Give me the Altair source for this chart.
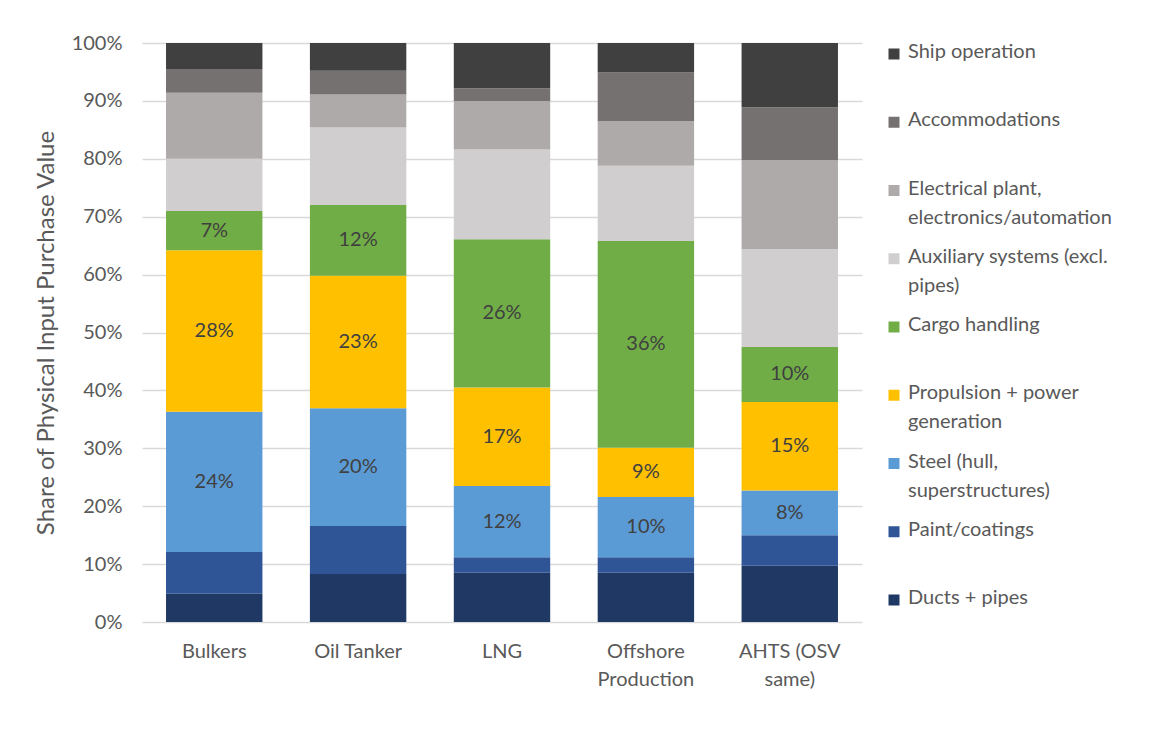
import altair as alt
import pandas as pd

# ---- data ----
ships = ["Bulkers", "Oil Tanker", "LNG", "Offshore Production", "AHTS (OSV same)"]
ship_axis_lines = [["Bulkers"], ["Oil Tanker"], ["LNG"], ["Offshore", "Production"], ["AHTS (OSV", "same)"]]

# components, bottom of stack first
components = [
    "Ducts + pipes",
    "Paint/coatings",
    "Steel (hull, superstructures)",
    "Propulsion + power generation",
    "Cargo handling",
    "Auxiliary systems (excl. pipes)",
    "Electrical plant, electronics/automation",
    "Accommodations",
    "Ship operation",
]
legend_text = [
    "Ducts + pipes",
    "Paint/coatings",
    "Steel (hull,\nsuperstructures)",
    "Propulsion + power\ngeneration",
    "Cargo handling",
    "Auxiliary systems (excl.\npipes)",
    "Electrical plant,\nelectronics/automation",
    "Accommodations",
    "Ship operation",
]
colors = ["#203864", "#2F5597", "#5B9BD5", "#FFC000", "#70AD47",
          "#D0CECE", "#AEAAAA", "#767171", "#404040"]

ducts = [4.9, 8.3, 8.5, 8.5, 9.7]
paint = [7.2, 8.3, 2.7, 2.7, 5.3]
steel = [24.2, 20.3, 12.3, 10.4, 7.7]
propulsion = [27.9, 22.9, 17.0, 8.5, 15.3]
cargo = [6.8, 12.2, 25.6, 35.7, 9.5]
auxiliary = [9.0, 13.4, 15.5, 13.0, 16.9]
electrical = [11.4, 5.7, 8.4, 7.7, 15.4]
accommodations = [4.1, 4.1, 2.2, 8.4, 9.1]
ship_operation = [4.5, 4.8, 7.8, 5.1, 11.1]

steel_labels = ["24%", "20%", "12%", "10%", "8%"]
propulsion_labels = ["28%", "23%", "17%", "9%", "15%"]
cargo_labels = ["7%", "12%", "26%", "36%", "10%"]

series = [ducts, paint, steel, propulsion, cargo, auxiliary, electrical,
          accommodations, ship_operation]
labels = [None, None, steel_labels, propulsion_labels, cargo_labels,
          None, None, None, None]

rows = []
for i, (comp, vals) in enumerate(zip(components, series)):
    for j, ship in enumerate(ships):
        lab = labels[i][j] if labels[i] is not None else ""
        rows.append({"ship": ship, "component": comp, "order": i,
                     "value": vals[j], "label": lab})
df = pd.DataFrame(rows)

leg_df = pd.DataFrame({"component": components, "text": legend_text})
legend_order = components[::-1]

FONT = "Lato"
GREY = "#595959"

# x label expression (multi-line)
parts = []
for name, lines in zip(ships, ship_axis_lines):
    if len(lines) > 1:
        arr = "[" + ",".join("'" + l + "'" for l in lines) + "]"
        parts.append(f"datum.value == '{name}' ? {arr} : ")
label_expr = "".join(parts) + "datum.label"

base = alt.Chart(df).transform_stack(
    stack="value", groupby=["ship"], sort=[alt.SortField("order", order="ascending")],
    as_=["y0", "y1"]
).transform_calculate(mid="(datum.y0 + datum.y1) / 2")

x_enc = alt.X("ship:N", sort=ships, title=None,
              scale=alt.Scale(paddingInner=0.33, paddingOuter=0.167),
              axis=alt.Axis(labelAngle=0, ticks=False, domain=False, labelExpr=label_expr,
                            labelFontSize=20, labelColor=GREY, labelFont=FONT,
                            labelPadding=19, labelLineHeight=28, labelBaseline="top"))

bars = base.mark_bar(stroke=None).encode(
    x=x_enc,
    y=alt.Y("y0:Q", scale=alt.Scale(domain=[0, 100], nice=False),
            title="Share of Physical Input Purchase Value",
            axis=alt.Axis(values=list(range(0, 101, 10)), labelExpr="datum.value + '%'",
                          ticks=False, domain=False, grid=True, gridColor="#D9D9D9",
                          gridWidth=1.3, labelFontSize=20, labelColor=GREY, labelFont=FONT,
                          labelPadding=20, titleFontSize=24, titleFont=FONT,
                          titleColor=GREY, titleFontWeight="normal", titlePadding=13)),
    y2="y1:Q",
    color=alt.Color("component:N", scale=alt.Scale(domain=components, range=colors),
                    legend=None),
)

texts = base.transform_filter("datum.label != ''").mark_text(
    font=FONT, fontSize=20, color="#404040", baseline="middle"
).encode(
    x=alt.X("ship:N", sort=ships),
    y=alt.Y("mid:Q"),
    text="label:N",
)

main = alt.layer(bars, texts).properties(width=720, height=579)

leg_y = alt.Y("component:N", sort=legend_order, axis=None,
              scale=alt.Scale(type="point", range=[11, 557], padding=0))
leg_squares = alt.Chart(leg_df).mark_square(size=121, opacity=1).encode(
    x=alt.value(0),
    y=leg_y,
    color=alt.Color("component:N", scale=alt.Scale(domain=components, range=colors),
                    legend=None),
)
leg_texts = alt.Chart(leg_df).mark_text(
    font=FONT, fontSize=20, color=GREY, align="left", baseline="top",
    lineBreak="\n", lineHeight=29, dx=14, dy=-12
).encode(
    x=alt.value(0),
    y=leg_y,
    text="text:N",
)
legend = alt.layer(leg_squares, leg_texts).properties(width=240, height=579)

chart = alt.hconcat(main, legend, spacing=26).properties(
    padding={"left": 34, "top": 33, "right": 5, "bottom": 5},
    background="white",
).configure_view(stroke=None)

chart.save("out.html", embed_options={"renderer": "svg", "actions": False})
